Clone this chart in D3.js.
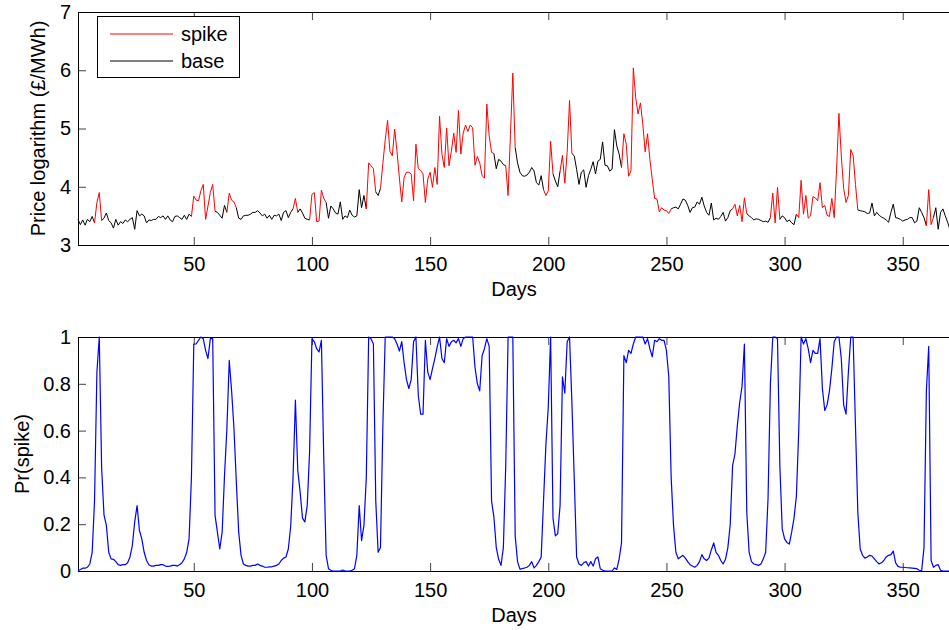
<!DOCTYPE html>
<html>
<head>
<meta charset="utf-8">
<script src="https://cdn.jsdelivr.net/npm/d3@7"></script>
<style>
  body { margin: 0; background: #fff; }
  svg { font-family: "Liberation Sans", Arial, Helvetica, sans-serif; }
</style>
</head>
<body>
<script>
// log price per day (day 1..370)
const price = [
  3.44,3.35,3.43,3.34,3.44,3.40,3.49,3.38,3.73,3.90,
  3.42,3.46,3.55,3.42,3.38,3.29,3.44,3.34,3.40,3.37,
  3.43,3.40,3.44,3.47,3.27,3.59,3.50,3.53,3.50,3.38,
  3.43,3.42,3.44,3.44,3.49,3.47,3.50,3.44,3.50,3.43,
  3.40,3.49,3.50,3.47,3.44,3.51,3.44,3.53,3.49,3.84,
  3.77,3.76,3.93,4.04,3.44,3.67,3.90,4.04,3.58,3.56,
  3.51,3.46,3.68,3.56,3.89,3.77,3.74,3.64,3.46,3.44,
  3.50,3.51,3.51,3.53,3.56,3.56,3.59,3.55,3.50,3.53,
  3.46,3.51,3.44,3.51,3.50,3.53,3.42,3.56,3.59,3.47,
  3.56,3.62,3.80,3.56,3.62,3.55,3.46,3.44,3.43,3.87,
  3.90,3.40,3.41,3.94,3.80,3.73,3.46,3.67,3.62,3.55,
  3.53,3.74,3.44,3.50,3.47,3.60,3.51,3.48,3.50,3.95,
  3.64,3.85,3.62,4.41,4.36,4.31,3.91,3.85,3.97,4.40,
  4.80,5.14,4.61,4.53,4.99,4.60,4.15,3.74,4.16,4.25,
  4.25,4.22,3.76,4.73,4.31,4.28,4.22,3.73,4.13,4.25,
  3.99,4.33,4.04,5.21,4.56,4.33,5.01,4.36,4.61,4.92,
  4.59,5.31,4.56,4.92,5.06,4.95,5.06,5.01,4.37,4.52,
  4.41,4.19,4.15,5.42,4.87,4.59,4.57,4.31,4.47,4.44,
  4.38,4.36,3.85,4.90,5.95,4.67,4.41,4.25,4.19,4.18,
  4.20,4.25,4.33,4.27,4.07,4.03,4.19,3.95,3.85,3.93,
  4.78,4.22,4.10,4.00,4.27,4.54,4.06,4.59,5.48,4.57,
  4.53,4.30,4.04,4.25,4.29,3.99,4.19,4.30,4.43,4.22,
  4.44,4.47,4.77,4.37,4.36,4.27,4.30,4.98,4.70,4.56,
  4.33,4.91,4.73,4.18,4.27,6.04,5.53,5.25,5.44,5.08,
  4.60,4.91,4.47,4.13,3.80,3.79,3.57,3.64,3.60,3.59,
  3.54,3.62,3.64,3.65,3.62,3.70,3.79,3.77,3.68,3.56,
  3.64,3.65,3.74,3.70,3.82,3.67,3.56,3.51,3.72,3.43,
  3.46,3.44,3.49,3.56,3.41,3.47,3.59,3.62,3.70,3.50,
  3.68,3.40,3.81,3.54,3.50,3.47,3.43,3.45,3.44,3.42,
  3.40,3.41,3.39,3.47,3.89,3.38,3.99,3.44,3.50,3.47,
  3.40,3.43,3.38,3.35,3.53,3.47,4.11,3.53,3.85,3.46,
  3.50,3.83,3.81,3.76,4.07,3.64,3.68,3.51,3.49,3.80,
  3.47,4.30,5.26,4.53,3.97,3.73,3.85,4.64,4.54,4.04,
  3.60,3.59,3.58,3.57,3.54,3.55,3.72,3.50,3.56,3.51,
  3.48,3.46,3.43,3.39,3.56,3.70,3.47,3.46,3.44,3.41,
  3.43,3.44,3.47,3.47,3.38,3.41,3.64,3.56,3.47,3.33,
  3.95,3.35,3.47,3.64,3.27,3.56,3.62,3.50,3.39,3.26
]

// days classified as spike regime (inclusive ranges)
const spikeRanges = [
  [8, 11], [49, 59], [64, 68], [92, 94], [99, 106], [123, 127], [129, 177],
  [182, 186], [198, 202], [205, 210], [231, 252], [278, 284], [294, 298],
  [305, 331], [360, 363]
]

// probability of spike regime per day
const probSpike = [
  0,0.006,0.012,0.012,0.016,0.03,0.08,0.30,0.85,1,
  0.44,0.24,0.195,0.08,0.052,0.05,0.04,0.027,0.024,0.027,
  0.027,0.035,0.06,0.11,0.21,0.28,0.173,0.137,0.08,0.045,
  0.027,0.021,0.021,0.024,0.024,0.027,0.027,0.021,0.02,0.021,
  0.024,0.024,0.021,0.027,0.035,0.052,0.08,0.137,0.40,0.97,
  0.97,0.986,1,0.993,0.943,0.908,0.993,0.993,0.237,0.166,
  0.094,0.166,0.408,0.608,0.90,0.77,0.608,0.38,0.166,0.067,
  0.03,0.024,0.021,0.021,0.024,0.024,0.03,0.024,0.021,0.016,
  0.016,0.018,0.018,0.021,0.024,0.03,0.045,0.055,0.06,0.094,
  0.19,0.40,0.73,0.43,0.337,0.226,0.21,0.28,0.51,0.993,
  0.98,0.95,0.936,0.986,0.48,0.067,0.01,0.003,0,0,
  0,0,0.004,0,0,0,0.003,0.01,0.067,0.28,
  0.13,0.195,0.40,1,0.993,0.97,0.30,0.08,0.10,0.62,
  1,1,1,1,0.993,0.97,0.94,0.98,0.89,0.818,
  0.78,0.818,0.98,1,0.75,0.67,0.67,0.986,0.85,0.818,
  0.865,0.908,0.958,1,0.908,0.89,0.993,0.96,0.98,0.986,
  0.975,0.993,0.96,0.993,1,1,1,1,0.87,0.80,
  0.77,0.92,0.95,0.993,0.96,0.30,0.23,0.10,0.05,0.024,
  0.10,0.45,1,1,1,0.15,0.04,0.008,0.01,0.013,
  0.016,0.024,0.04,0.013,0.024,0.04,0.06,0.30,0.54,0.70,
  1,0.226,0.15,0.159,0.28,0.83,0.76,0.98,1,0.72,
  0.394,0.06,0.03,0.024,0.035,0.04,0.021,0.04,0.021,0.052,
  0.06,0.01,0.003,0,0,0,0,0.013,0.007,0.052,
  0.12,0.92,0.89,0.943,0.93,0.97,1,1,1,1,
  0.97,0.993,0.95,0.915,0.986,0.98,0.993,0.986,0.986,0.943,
  0.83,0.40,0.195,0.08,0.052,0.06,0.067,0.055,0.04,0.027,
  0.021,0.016,0.024,0.04,0.07,0.052,0.045,0.055,0.09,0.12,
  0.08,0.067,0.045,0.03,0.05,0.10,0.20,0.45,0.50,0.62,
  0.72,0.79,0.97,0.25,0.08,0.04,0.03,0.027,0.024,0.03,
  0.052,0.08,0.31,0.80,1,1,0.993,0.45,0.18,0.137,
  0.122,0.115,0.166,0.226,0.32,0.60,1,0.97,0.993,0.95,
  0.89,0.943,0.93,0.93,0.993,0.78,0.686,0.71,0.77,0.865,
  0.98,1,1,0.908,0.71,0.67,0.85,1,1,0.62,
  0.25,0.094,0.067,0.055,0.06,0.067,0.064,0.052,0.04,0.03,
  0.035,0.045,0.06,0.067,0.07,0.085,0.035,0.02,0.016,0.016,
  0.015,0.014,0.013,0.012,0.011,0.01,0.003,0,0.1,0.77,
  0.96,0.045,0.016,0.024,0.027,0.003,0,0,0,0
]

const dayTicks = [50, 100, 150, 200, 250, 300, 350]
const priceTicks = [3, 4, 5, 6, 7]
const probTicks = [0, 0.2, 0.4, 0.6, 0.8, 1]
const legendLabels = ['spike', 'base']

let width = 949
let height = 630
let left = 78
let right = 950
let panels = [
  { top: 12, bottom: 245, label: 'Price logarithm (£/MWh)', labelX: 45 },
  { top: 337, bottom: 571, label: 'Pr(spike)', labelX: 29 }
]

const svg = d3.select('body')
  .append('svg')
  .attr('width', width)
  .attr('height', height)

const x = d3.scaleLinear()
  .domain([1, 370])
  .range([left, right])

const yPrice = d3.scaleLinear()
  .domain([3, 7])
  .range([panels[0].bottom, panels[0].top])

const yProb = d3.scaleLinear()
  .domain([0, 1])
  .range([panels[1].bottom, panels[1].top])

const isSpike = (day) => spikeRanges.some(r => day >= r[0] && day <= r[1])

// axes with inward ticks, MATLAB style
function drawAxes(p, yScale, yTicks) {
  const g = svg.append('g')

  g.append('g')
    .attr('transform', `translate(0,${p.bottom})`)
    .call(d3.axisBottom(x).tickValues(dayTicks).tickFormat(d => String(d))
      .tickSizeInner(-8).tickSizeOuter(0).tickPadding(12))
  g.append('g')
    .attr('transform', `translate(0,${p.top})`)
    .call(d3.axisTop(x).tickValues(dayTicks).tickSizeInner(-8).tickSizeOuter(0).tickFormat(''))
  g.append('g')
    .attr('transform', `translate(${left},0)`)
    .call(d3.axisLeft(yScale).tickValues(yTicks).tickFormat(d => String(d))
      .tickSizeInner(-8).tickSizeOuter(0).tickPadding(7))

  g.selectAll('.domain').remove()
  g.selectAll('.tick line').attr('stroke', '#444')
  g.selectAll('.tick text')
    .attr('font-size', 20)
    .attr('fill', '#000')
    .attr('font-family', '"Liberation Sans", Arial, sans-serif')

  svg.append('rect')
    .attr('x', left + 0.5)
    .attr('y', p.top + 0.5)
    .attr('width', right - left)
    .attr('height', p.bottom - p.top)
    .attr('fill', 'none')
    .attr('stroke', '#000')
    .attr('stroke-width', 1)

  svg.append('text')
    .attr('x', (left + right) / 2)
    .attr('y', p.bottom + 51)
    .attr('text-anchor', 'middle')
    .attr('font-size', 20)
    .text('Days')

  svg.append('text')
    .attr('transform', `translate(${p.labelX},${(p.top + p.bottom) / 2}) rotate(-90)`)
    .attr('text-anchor', 'middle')
    .attr('font-size', 20)
    .text(p.label)
}

drawAxes(panels[0], yPrice, priceTicks)
drawAxes(panels[1], yProb, probTicks)

// top panel: price, coloured by regime
const line = d3.line()
  .x(d => x(d.day))
  .y(d => yPrice(d.v))

let runs = []
for (let i = 0; i < price.length - 1; i++) {
  const d0 = i + 1, d1 = i + 2
  const col = isSpike(d0) && isSpike(d1) ? 'red' : 'black'
  const last = runs[runs.length - 1]
  if (last && last.color === col) {
    last.pts.push({ day: d1, v: price[i + 1] })
  } else {
    runs.push({ color: col, pts: [{ day: d0, v: price[i] }, { day: d1, v: price[i + 1] }] })
  }
}

svg.append('g')
  .selectAll('path')
  .data(runs)
  .join('path')
  .attr('d', d => line(d.pts))
  .attr('fill', 'none')
  .attr('stroke', d => d.color === 'red' ? '#ff0000' : '#000')
  .attr('stroke-width', 1)
  .attr('stroke-linejoin', 'round')

// bottom panel: Pr(spike)
const probLine = d3.line()
  .x((d, i) => x(i + 1))
  .y(d => yProb(d))

svg.append('path')
  .datum(probSpike)
  .attr('d', probLine)
  .attr('fill', 'none')
  .attr('stroke', '#0000ff')
  .attr('stroke-width', 1.2)
  .attr('stroke-linejoin', 'round')

// legend
const legend = svg.append('g')
legend.append('rect')
  .attr('x', 97.5)
  .attr('y', 16.5)
  .attr('width', 142)
  .attr('height', 61)
  .attr('fill', '#fff')
  .attr('stroke', '#000')

legend.selectAll('line')
  .data(legendLabels)
  .join('line')
  .attr('x1', 110)
  .attr('x2', 173)
  .attr('y1', (d, i) => 34 + i * 27)
  .attr('y2', (d, i) => 34 + i * 27)
  .attr('stroke', d => d === 'spike' ? '#ff0000' : '#000')
  .attr('stroke-width', 1)

legend.selectAll('text')
  .data(legendLabels)
  .join('text')
  .attr('x', 181)
  .attr('y', (d, i) => 34 + i * 27)
  .attr('dy', '0.35em')
  .attr('font-size', 20)
  .text(d => d)
</script>
</body>
</html>
